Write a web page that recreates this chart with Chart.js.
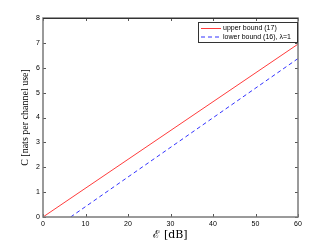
<!DOCTYPE html>
<html>
<head>
<meta charset="utf-8">
<script src="https://cdn.jsdelivr.net/npm/chart.js"></script>
<style>
  html, body { margin: 0; padding: 0; background: #fff; }
  #wrap { width: 330px; height: 245px; }
</style>
</head>
<body>
<div id="wrap"><canvas id="capChart" width="330" height="245"></canvas></div>
<script>
// values
const upperX = [0, 60];
const upperY = [0, 6.95];
const lowerX = [6.5, 60];
const lowerY = [0, 6.37];
const xTicks = [0, 10, 20, 30, 40, 50, 60];
const yTicks = [0, 1, 2, 3, 4, 5, 6, 7, 8];
const seriesNames = ['upper bound (17)', 'lower bound (16), \u03bb=1'];
const xTitle = '\u2130 [dB]';
const yTitle = 'C [nats per channel use]';

function toPoints(xs, ys) {
    return xs.map((x, i) => ({ x: x, y: ys[i] }));
}

// matlab-like frame, inward ticks, axis labels and legend
const framePlugin = {
    id: 'frame',
    afterDraw(chart) {
        const ctx = chart.ctx;
        const a = chart.chartArea;
        const xs = chart.scales.x, ys = chart.scales.y;
        ctx.save();
        // ticks on all four sides
        ctx.strokeStyle = '#555';
        ctx.lineWidth = 1;
        ctx.beginPath();
        xTicks.forEach(t => {
            const px = Math.round(xs.getPixelForValue(t)) + 0.5;
            ctx.moveTo(px, a.bottom); ctx.lineTo(px, a.bottom - 3);
            ctx.moveTo(px, a.top); ctx.lineTo(px, a.top + 3);
        });
        yTicks.forEach(t => {
            const py = Math.round(ys.getPixelForValue(t)) + 0.5;
            ctx.moveTo(a.left, py); ctx.lineTo(a.left + 3, py);
            ctx.moveTo(a.right, py); ctx.lineTo(a.right - 3, py);
        });
        ctx.stroke();
        // box
        ctx.strokeStyle = '#7a7a7a';
        ctx.lineWidth = 1.5;
        ctx.strokeRect(a.left, a.top, a.right - a.left, a.bottom - a.top);
        ctx.strokeStyle = '#333';
        ctx.lineWidth = 1;
        ctx.beginPath();
        ctx.moveTo(a.left, a.top + 0.5); ctx.lineTo(a.right, a.top + 0.5);
        ctx.stroke();

        // axis titles
        ctx.fillStyle = '#000';
        ctx.textAlign = 'center';
        ctx.textBaseline = 'middle';
        ctx.font = '11px "DejaVu Serif", "Liberation Serif", serif';
        ctx.fillText(xTitle, (a.left + a.right) / 2, 235);

        ctx.save();
        ctx.translate(25, (a.top + a.bottom) / 2);
        ctx.rotate(-Math.PI / 2);
        ctx.font = '10px "Liberation Serif", serif';
        ctx.fillText(yTitle, 0, 0);
        ctx.restore();

        // legend box
        const lx = 198, ly = 22, lw = 99, lh = 20;
        ctx.fillStyle = '#fff';
        ctx.fillRect(lx, ly, lw, lh);
        ctx.strokeStyle = '#333';
        ctx.lineWidth = 1;
        ctx.strokeRect(lx + 0.5, ly + 0.5, lw, lh);
        ctx.font = '7px "Liberation Sans", Arial, sans-serif';
        ctx.textAlign = 'left';
        ctx.fillStyle = '#000';
        chart.data.datasets.forEach((ds, i) => {
            const yy = ly + 6 + i * 8.5;
            ctx.strokeStyle = ds.borderColor;
            ctx.setLineDash(ds.borderDash || []);
            ctx.beginPath();
            ctx.moveTo(lx + 3, yy + 0.5); ctx.lineTo(lx + 23, yy + 0.5);
            ctx.stroke();
            ctx.setLineDash([]);
            ctx.fillText(ds.label, lx + 25, yy + 0.5);
        });
        ctx.restore();
    }
};

new Chart(document.getElementById('capChart'), {
    type: 'scatter',
    data: {
        datasets: [
            {
                label: seriesNames[0],
                data: toPoints(upperX, upperY),
                showLine: true,
                borderColor: 'rgb(255,60,60)',
                borderWidth: 1,
                pointRadius: 0
            },
            {
                label: seriesNames[1],
                data: toPoints(lowerX, lowerY),
                showLine: true,
                borderColor: 'rgb(50,50,255)',
                borderDash: [4, 3],
                borderWidth: 1,
                pointRadius: 0
            }
        ]
    },
    options: {
        responsive: false,
        animation: false,
        layout: { padding: { left: 0, top: 18, right: 32, bottom: 0 } },
        plugins: { legend: { display: false }, tooltip: { enabled: false } },
        scales: {
            x: {
                type: 'linear', min: 0, max: 60,
                afterBuildTicks: s => { s.ticks = xTicks.map(v => ({ value: v })); },
                afterFit: s => { s.height = 28; },
                grid: { display: false, drawTicks: false },
                border: { display: false },
                ticks: { color: '#000', padding: 3, maxRotation: 0,
                    font: { size: 7, family: '"Liberation Sans", Arial, sans-serif' } }
            },
            y: {
                type: 'linear', min: 0, max: 8,
                afterBuildTicks: s => { s.ticks = yTicks.map(v => ({ value: v })); },
                afterFit: s => { s.width = 43; },
                grid: { display: false, drawTicks: false },
                border: { display: false },
                ticks: { color: '#000', padding: 3,
                    font: { size: 7, family: '"Liberation Sans", Arial, sans-serif' } }
            }
        }
    },
    plugins: [framePlugin]
});
</script>
</body>
</html>
